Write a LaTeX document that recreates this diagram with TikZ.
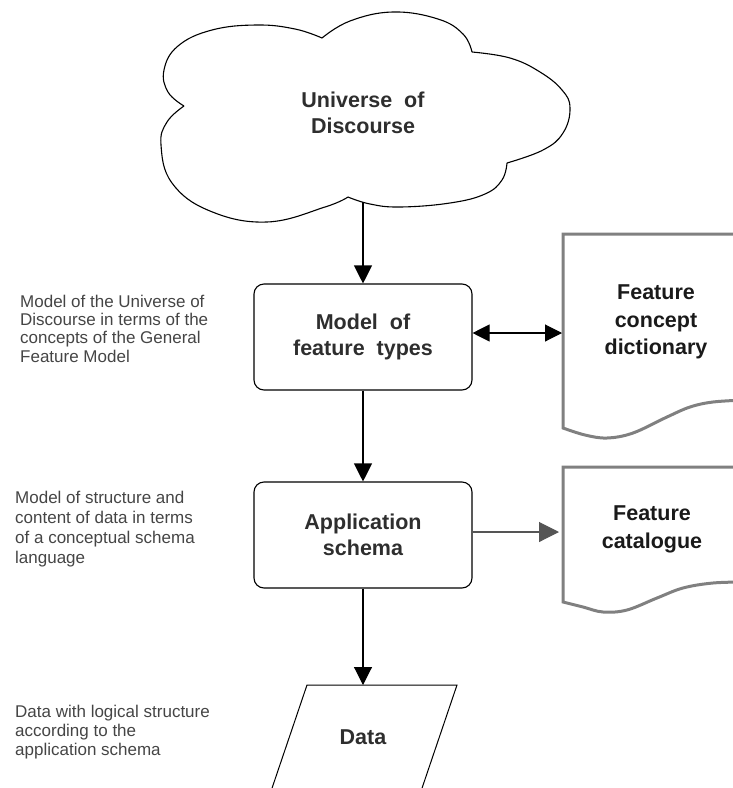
\documentclass[tikz,border=0pt]{standalone}
\usepackage{fontspec}
\setmainfont{Liberation Sans}
\usetikzlibrary{arrows.meta}
\definecolor{boxtext}{HTML}{2E2E2E}
\definecolor{doctext}{HTML}{1A1A1A}
\definecolor{sidetext}{HTML}{454545}
\definecolor{docline}{HTML}{808080}
\definecolor{grayarrow}{HTML}{555555}
\begin{document}
\begin{tikzpicture}[x=1pt,y=-1pt,
  outline/.style={draw=black, line width=1.1pt},
  procbox/.style={draw=black, line width=1.1pt, rounded corners=10pt,
    minimum width=218pt, minimum height=106pt, align=center, inner sep=0pt,
    text=boxtext, font=\fontsize{21.5}{26}\selectfont\bfseries},
  boldtext/.style={align=center, inner sep=0pt, text=boxtext,
    font=\fontsize{21.5}{26}\selectfont\bfseries},
  doctxt/.style={align=center, inner sep=0pt, text=doctext,
    font=\fontsize{21.5}{27.5}\selectfont\bfseries},
  sidelabel/.style={align=left, anchor=north west, inner sep=0pt, text=sidetext,
    font=\fontsize{17}{19}\selectfont},
  docshape/.style={draw=docline, line width=3pt, line join=miter},
  downarrow/.style={draw=black, line width=1.1pt, -{Triangle[length=18pt,width=18pt]}},
  twoway/.style={draw=black, line width=1.1pt,
    {Triangle[length=17pt,width=17pt]}-{Triangle[length=17pt,width=17pt]}},
  grayarr/.style={draw=grayarrow, line width=1.1pt, -{Triangle[length=20pt,width=20pt]}}
]
\useasboundingbox (0,0) rectangle (733,788);
\clip (0,0) rectangle (733,788);

% cloud (five lobes)
\draw[outline] plot[smooth, tension=0.7] coordinates {(184,106) (168,92) (164,70) (178,46) (212,30) (257,25) (295,29) (322,38)};
\draw[outline] plot[smooth, tension=0.7] coordinates {(322,38) (350,21) (393,12) (438,19) (463,34) (472,52)};
\draw[outline] plot[smooth, tension=0.7] coordinates {(472,52) (510,58) (540,72) (562,90) (570,108) (563,133) (543,150) (507,163)};
\draw[outline] plot[smooth, tension=0.7] coordinates {(507,163) (502,180) (485,194) (450,203) (400,207) (370,204) (348,197)};
\draw[outline] plot[smooth, tension=0.7] coordinates {(348,197) (325,207) (267,222) (210,211) (172,183) (161,145) (167,122) (184,106)};
\node[boldtext] (uod) at (363,113) {Universe\ \ of\\Discourse};
\coordinate (cloudb) at (363,202);

% process boxes
\node[procbox] (mft) at (363,337) {Model\ \ of\\feature\ \ types};
\node[procbox] (app) at (363,535) {Application\\schema};

% documents
\draw[docshape] (745,234) -- (563,234) -- (563,428)
  -- plot[smooth, tension=0.6] coordinates {(563,428) (585,435) (607,438) (633,433) (667,417) (690,407) (713,402) (745,400)};
\node[doctxt] (fcd) at (656,322) {Feature\\concept\\dictionary};
\coordinate (fcdw) at (562,333);

\draw[docshape] (745,467) -- (563,467) -- (563,602)
  -- plot[smooth, tension=0.6] coordinates {(563,602) (583,607) (603,612) (627,610) (657,598) (683,588) (713,583) (745,582)};
\node[doctxt] (fc) at (652,529.5) {Feature\\catalogue};
\coordinate (fcw) at (559,532);

% data parallelogram
\draw[draw=black, line width=1pt] (268,800) -- (307,685) -- (457,685) -- (418,800);
\node[boldtext] (data) at (363,737) {Data};
\coordinate (datatop) at (363,685);

% connectors
\draw[downarrow] (cloudb) -- (mft.north);
\draw[downarrow] (mft.south) -- (app.north);
\draw[downarrow] (app.south) -- (datatop);
\draw[twoway] (mft.east |- fcdw) -- (fcdw);
\draw[grayarr] (app.east |- fcw) -- (fcw);

% side labels
\node[sidelabel, font=\fontsize{17}{18.4}\selectfont] (l1) at (20,294.5) {Model of the Universe of\\Discourse in terms of the\\concepts of the General\\Feature Model};
\node[sidelabel, font=\fontsize{17}{20}\selectfont] (l2) at (15,490.5) {Model of structure and\\content of data in terms\\of a conceptual schema\\language};
\node[sidelabel] (l3) at (15,704.5) {Data with logical structure\\according to the\\application schema};
\end{tikzpicture}
\end{document}
